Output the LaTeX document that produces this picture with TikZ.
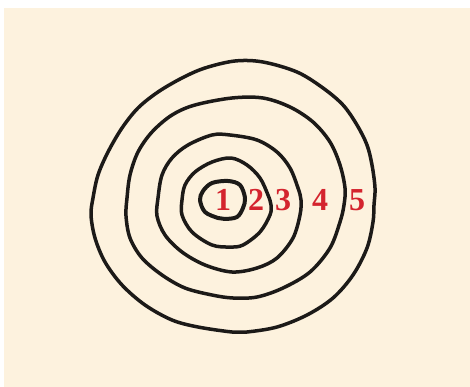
\documentclass[tikz,border=0pt]{standalone}
\usepackage{fontspec}
\setmainfont{Liberation Serif}
\definecolor{bg}{RGB}{253,242,222}
\definecolor{numred}{RGB}{212,36,46}
\definecolor{ink}{RGB}{28,26,24}
\begin{document}
\begin{tikzpicture}[x=1pt,y=-1pt,
  ring/.style={draw=ink,line width=3.5pt,line join=round},
  num/.style={text=numred,font=\bfseries\fontsize{32}{32}\selectfont,inner sep=0pt}]
\useasboundingbox (0,0) rectangle (470,387);
\fill[white] (0,0) rectangle (470,387);
\fill[bg] (4,8) rectangle (470,387);
% ring 5
\draw[ring] plot[smooth cycle,tension=0.55] coordinates {
 (93,198) (98,175) (108,152) (122,128) (138,108) (158,92) (182,78) (205,68)
 (235,61) (263,62) (297,72) (323,88) (343,105) (357,125) (367,145) (372,165)
 (375,188) (374,205) (373,222) (367,248) (353,275) (333,298) (307,315) (277,327)
 (247,332) (232,332) (198,327) (172,320) (145,305) (122,285) (105,262) (95,238) (91,215)};
% ring 4
\draw[ring] plot[smooth cycle,tension=0.55] coordinates {
 (127,198) (130,175) (138,152) (152,132) (172,115) (195,105) (232,98) (263,98)
 (290,107) (313,122) (330,142) (340,165) (345,188) (344,205) (340,222) (330,248)
 (310,272) (283,288) (257,297) (233,298) (212,295) (185,288) (162,275) (142,258)
 (130,238) (126,216)};
% ring 3
\draw[ring] plot[smooth cycle,tension=0.55] coordinates {
 (158,198) (162,175) (172,158) (188,145) (212,135) (230,135) (257,140) (277,152)
 (290,168) (298,188) (301,200) (300,215) (293,238) (277,258) (257,268) (232,272)
 (205,265) (182,252) (165,235) (157,216)};
% ring 2
\draw[ring] plot[smooth cycle,tension=0.55] coordinates {
 (182,200) (185,185) (195,172) (212,162) (231,158) (247,165) (260,178) (268,195)
 (271,205) (270,215) (260,232) (243,245) (230,247) (212,245) (192,232) (182,215)};
% ring 1
\draw[ring,line width=4pt] plot[smooth cycle,tension=0.55] coordinates {
 (200,200) (203,191) (212,183) (228,181) (240,185) (245,198) (243,208) (237,217)
 (225,219) (218,218) (205,212)};
\node[num] (n1) at (223,200) {1};
\node[num] (n2) at (256,200) {2};
\node[num] (n3) at (283,200) {3};
\node[num] (n4) at (320,200) {4};
\node[num] (n5) at (357,200) {5};
\end{tikzpicture}
\end{document}
